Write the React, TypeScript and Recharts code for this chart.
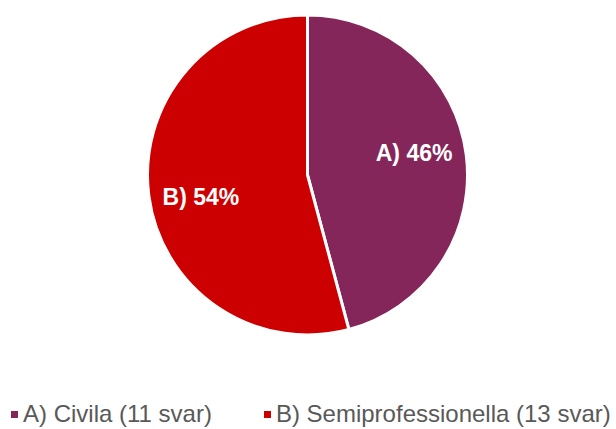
import { PieChart, Pie, Cell } from 'recharts'

const categories = ['A) Civila', 'B) Semiprofessionella']
const answers = [11, 13]
const percents = [46, 54]
const colors = ['#85265A', '#CC0000']

const data = categories.map((name, i) => ({
  name,
  value: answers[i],
  pct: percents[i],
}))

const RADIAN = Math.PI / 180
const FONT = 'Liberation Sans, Arial, sans-serif'

const renderLabel = (props: any) => {
  const { cx, cy, midAngle, outerRadius, index } = props
  const r = outerRadius * 0.68
  const a = midAngle + 4
  const x = cx + r * Math.cos(-a * RADIAN)
  const y = cy + r * Math.sin(-a * RADIAN)
  const short = categories[index].split(' ')[0]
  return (
    <text
      x={x}
      y={y}
      fill="#ffffff"
      textAnchor="middle"
      dominantBaseline="central"
      fontSize={23}
      fontWeight="bold"
      fontFamily={FONT}
    >
      {`${short} ${data[index].pct}%`}
    </text>
  )
}

export default function App() {
  return (
    <div style={{ width: 616, height: 429, position: 'fixed', top: 0, left: 0, background: '#fff' }}>
      <PieChart width={616} height={360} margin={{ top: 0, right: 0, bottom: 0, left: 0 }}>
        <Pie
          data={data}
          dataKey="value"
          cx={307.5}
          cy={175}
          outerRadius={160}
          startAngle={90}
          endAngle={-270}
          stroke="#ffffff"
          strokeWidth={3}
          label={renderLabel}
          labelLine={false}
          isAnimationActive={false}
        >
          {data.map((d, i) => (
            <Cell key={d.name} fill={colors[i]} />
          ))}
        </Pie>
      </PieChart>
      <div
        style={{
          position: 'absolute',
          top: 401,
          left: 11,
          display: 'flex',
          alignItems: 'center',
          fontFamily: FONT,
          fontSize: 24,
          lineHeight: '26px',
          color: '#595959',
          whiteSpace: 'nowrap',
        }}
      >
        {data.map((d, i) => (
          <div key={d.name} style={{ display: 'flex', alignItems: 'center', marginRight: i === 0 ? 52 : 0 }}>
            <span style={{ width: 7, height: 7, background: colors[i], display: 'inline-block', marginRight: 5 }} />
            <span>{`${d.name} (${d.value} svar)`}</span>
          </div>
        ))}
      </div>
    </div>
  )
}
